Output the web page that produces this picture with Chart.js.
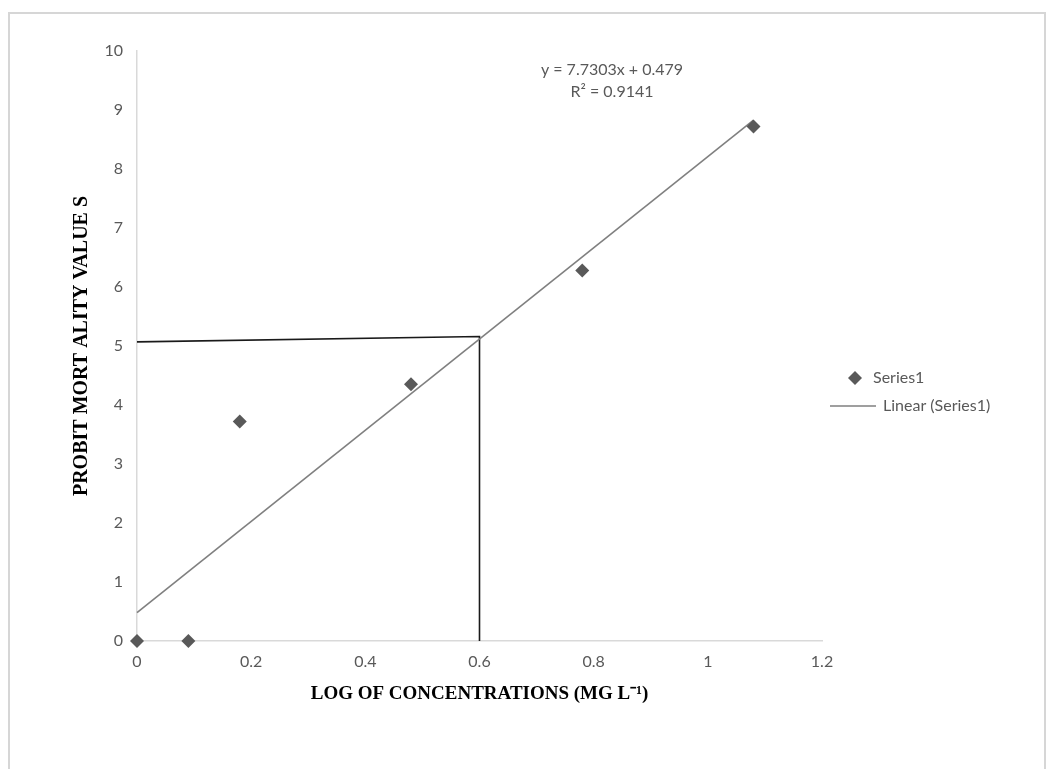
<!DOCTYPE html>
<html>
<head>
<meta charset="utf-8">
<script src="https://cdn.jsdelivr.net/npm/chart.js@4.4.1/dist/chart.umd.min.js"></script>
<style>
html,body{margin:0;padding:0;background:#fff;}
#wrap{position:relative;width:1048px;height:769px;}
canvas{display:block;}
</style>
</head>
<body>
<div id="wrap"><canvas id="c" width="1048" height="769"></canvas></div>
<script>
// ---- data ----
const logConc = [0, 0.09, 0.18, 0.48, 0.78, 1.08];
const probit  = [0, 0, 3.72, 4.35, 6.28, 8.72];
const trendSlope = 7.7303;
const trendIntercept = 0.479;
const trendR2 = 0.9141;
const trendRange = [0, 1.08];
const guideX = [0, 0.6, 0.6];
const guideY = [5.07, 5.16, 0];
const xTicks = [0, 0.2, 0.4, 0.6, 0.8, 1, 1.2];
const yTicks = [0, 1, 2, 3, 4, 5, 6, 7, 8, 9, 10];
const seriesName = 'Series1';
const trendName = 'Linear (Series1)';
const xTitle = 'LOG OF CONCENTRATIONS (MG L\u207B\u00B9)';
const yTitle = 'PROBIT MORT ALITY VALUE S';

const pts = logConc.map((x, i) => ({x: x, y: probit[i]}));
const trendPts = trendRange.map(x => ({x: x, y: trendSlope * x + trendIntercept}));
const guidePts = guideX.map((x, i) => ({x: x, y: guideY[i]}));

const GRAY = '#595959';
const SANS = 'Lato, "Liberation Sans", sans-serif';
const tickFont = {family: SANS, size: 16};

const framePlugin = {
  id: 'frame',
  beforeDraw(chart) {
    const ctx = chart.ctx;
    ctx.save();
    ctx.fillStyle = '#ffffff';
    ctx.fillRect(0, 0, chart.width, chart.height);
    ctx.strokeStyle = '#d6d6d6';
    ctx.lineWidth = 2;
    ctx.strokeRect(9, 13, 1036, 780);
    ctx.restore();
  },
  afterDraw(chart) {
    const ctx = chart.ctx;
    ctx.save();
    // trendline equation
    ctx.fillStyle = GRAY;
    ctx.font = '16px ' + SANS;
    ctx.textAlign = 'center';
    ctx.textBaseline = 'middle';
    ctx.fillText('y = ' + trendSlope + 'x + ' + trendIntercept, 612, 70);
    ctx.fillText('R\u00B2 = ' + trendR2, 612, 92);
    // legend
    ctx.font = '16px ' + SANS;
    ctx.textAlign = 'left';
    const lx = 855, ly1 = 378, ly2 = 406;
    ctx.beginPath();
    ctx.moveTo(lx, ly1 - 7); ctx.lineTo(lx + 7, ly1); ctx.lineTo(lx, ly1 + 7); ctx.lineTo(lx - 7, ly1);
    ctx.closePath();
    ctx.fillStyle = GRAY; ctx.fill();
    ctx.fillText(seriesName, 873, ly1);
    ctx.strokeStyle = '#7f7f7f'; ctx.lineWidth = 1.5;
    ctx.beginPath(); ctx.moveTo(830, ly2); ctx.lineTo(876, ly2); ctx.stroke();
    ctx.fillText(trendName, 883, ly2);
    ctx.restore();
  }
};

new Chart(document.getElementById('c'), {
  type: 'scatter',
  data: {
    datasets: [
      {
        label: 'guide',
        data: guidePts,
        showLine: true,
        borderColor: '#1a1a1a',
        borderWidth: 1.6,
        pointRadius: 0,
        fill: false,
        clip: false,
        order: 3
      },
      {
        label: trendName,
        data: trendPts,
        showLine: true,
        borderColor: '#808080',
        borderWidth: 1.6,
        pointRadius: 0,
        fill: false,
        clip: false,
        order: 2
      },
      {
        label: seriesName,
        data: pts,
        pointStyle: 'rectRot',
        pointRadius: 7,
        pointHoverRadius: 7,
        backgroundColor: GRAY,
        borderColor: GRAY,
        borderWidth: 0,
        clip: false,
        order: 1
      }
    ]
  },
  options: {
    responsive: false,
    animation: false,
    devicePixelRatio: 1,
    layout: {padding: {left: 66, top: 51, right: 226, bottom: 60}},
    plugins: {legend: {display: false}, tooltip: {enabled: false}},
    scales: {
      x: {
        type: 'linear',
        min: 0, max: 1.2,
        afterBuildTicks(scale) { scale.ticks = xTicks.map(v => ({value: v})); },
        afterFit(scale) { scale.height = 68; },
        grid: {display: false, drawTicks: false},
        border: {display: true, color: '#d9d9d9', width: 1.5},
        ticks: {color: GRAY, font: tickFont, padding: 11, callback: v => String(v)},
        title: {display: true, text: xTitle, color: '#000', padding: {top: 0, bottom: 4},
                font: {family: '"Liberation Serif", "Times New Roman", serif', size: 19, weight: 'bold'}}
      },
      y: {
        type: 'linear',
        min: 0, max: 10,
        afterBuildTicks(scale) { scale.ticks = yTicks.map(v => ({value: v})); },
        afterFit(scale) { scale.width = 71; },
        grid: {display: false, drawTicks: false},
        border: {display: true, color: '#d9d9d9', width: 1.5},
        ticks: {color: GRAY, font: tickFont, padding: 14, callback: v => String(v)},
        title: {display: true, text: yTitle, color: '#000', padding: {top: 4, bottom: 0},
                font: {family: '"Liberation Serif", "Times New Roman", serif', size: 20, weight: 'bold'}}
      }
    }
  },
  plugins: [framePlugin]
});
</script>
</body>
</html>
